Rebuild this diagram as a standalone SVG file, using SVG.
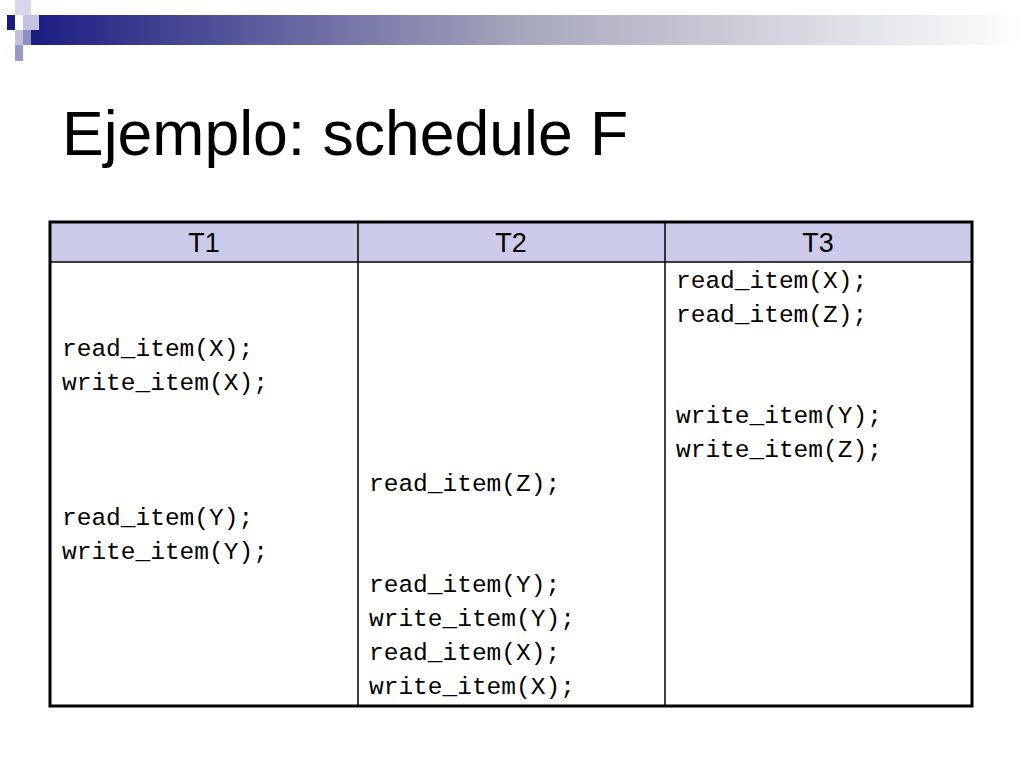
<svg xmlns="http://www.w3.org/2000/svg" width="1024" height="768" viewBox="0 0 1024 768">
<defs>
<linearGradient id="g" x1="0" x2="1" y1="0" y2="0">
<stop offset="0" stop-color="#1c1c82"/><stop offset="0.5" stop-color="#a8a8bd"/><stop offset="1" stop-color="#ffffff"/>
</linearGradient>
<style>
.c{font-family:"Liberation Mono",monospace;font-size:24.5px;fill:#000}
.h{font-family:"Liberation Sans",Arial,sans-serif;font-size:27px;fill:#000;text-anchor:middle}
</style>
</defs>
<rect width="1024" height="768" fill="#fff"/>
<g id="decor">
<rect x="31" y="15" width="993" height="30" fill="url(#g)"/>
<rect x="15" y="0" width="16" height="15" fill="#d8d8ec"/>
<rect x="23" y="15" width="16" height="15" fill="#c4c4e0"/>
<rect x="7" y="15" width="8" height="15" fill="#1a1a80"/>
<rect x="15" y="30" width="16" height="15" fill="#c0c0dc"/>
<rect x="15" y="45" width="8" height="16" fill="#9a9ac8"/>
<rect x="23" y="30" width="8" height="15" fill="#8e8ec0"/>
</g>
<text id="title" x="62" y="155" font-family="Liberation Sans,Arial,sans-serif" font-size="62.5" fill="#000">Ejemplo: schedule F</text>
<g id="table">
<rect x="50" y="222" width="922" height="40" fill="#ccccea"/>
<line x1="50" y1="262" x2="972" y2="262" stroke="#000" stroke-width="1.5"/>
<line x1="358" y1="222" x2="358" y2="706" stroke="#000" stroke-width="1.5"/>
<line x1="665" y1="222" x2="665" y2="706" stroke="#000" stroke-width="1.5"/>
<rect x="50" y="222" width="922" height="484" fill="none" stroke="#000" stroke-width="3"/>
<text class="h" x="204" y="252">T1</text>
<text class="h" x="511" y="252">T2</text>
<text class="h" x="818" y="252">T3</text>
</g>
<g id="t1">
<text class="c" x="62" y="356">read_item(X);</text>
<text class="c" x="62" y="390">write_item(X);</text>
<text class="c" x="62" y="525">read_item(Y);</text>
<text class="c" x="62" y="559">write_item(Y);</text>
</g>
<g id="t2">
<text class="c" x="369" y="491">read_item(Z);</text>
<text class="c" x="369" y="592">read_item(Y);</text>
<text class="c" x="369" y="626">write_item(Y);</text>
<text class="c" x="369" y="660">read_item(X);</text>
<text class="c" x="369" y="694">write_item(X);</text>
</g>
<g id="t3">
<text class="c" x="676" y="288">read_item(X);</text>
<text class="c" x="676" y="322">read_item(Z);</text>
<text class="c" x="676" y="423">write_item(Y);</text>
<text class="c" x="676" y="457">write_item(Z);</text>
</g>
<g id="connectors"/>
</svg>
